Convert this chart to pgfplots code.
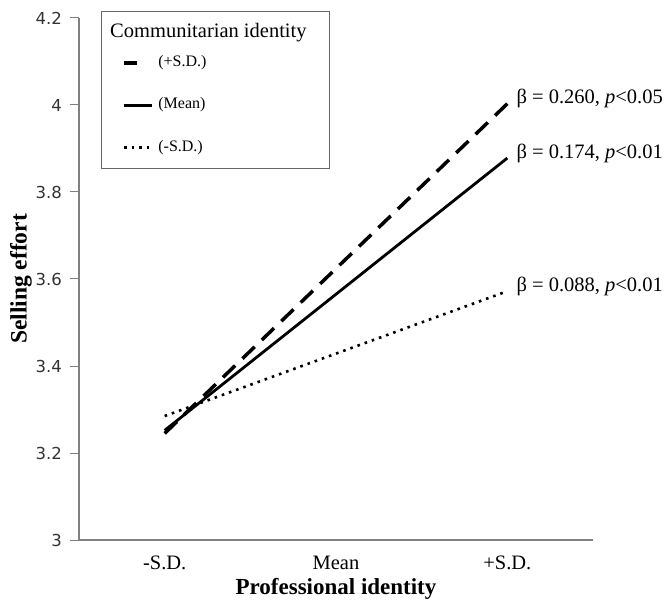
\documentclass[border=0pt]{standalone}
\usepackage{fontspec}
\setmainfont{Liberation Serif}
\setsansfont{DejaVu Sans}
\usepackage{pgfplots}
\pgfplotsset{compat=1.18}
\pgfplotsset{
  shortdash legend/.style={legend image code/.code={\path[draw=none, fill=none] (0pt,-1pt) rectangle (28pt,1pt); \draw[black, line width=3.5pt, solid] (0pt,0pt) -- (13pt,0pt);}},
  long legend/.style={legend image code/.code={\draw[##1] (0pt,0pt) -- (28pt,0pt);}},
}
\begin{document}
\begin{tikzpicture}
\begin{axis}[
  scale only axis, width=514pt, height=522pt,
  xmin=-0.5, xmax=2.5, ymin=3, ymax=4.2,
  axis lines*=left,
  axis line style={draw=black!50, line width=1.3pt},
  xtick={0,1,2}, xticklabels={-S.D.,Mean,+S.D.},
  ytick={3,3.2,3.4,3.6,3.8,4,4.2},
  yticklabels={3,3.2,3.4,3.6,3.8,4,4.2},
  tick align=outside, major tick length=9pt,
  xtick style={draw=none},
  ytick style={draw=black!50, line width=1pt},
  yticklabel style={font=\sffamily\fontsize{16.5}{20}\selectfont, text=black!80, inner sep=0pt, xshift=-8pt},
  xticklabel style={font=\fontsize{20.5}{24}\selectfont, anchor=base, inner sep=0pt, yshift=-20pt},
  /pgf/number format/assume math mode=true,
  xlabel={\textbf{Professional identity}},
  ylabel={\textbf{Selling effort}},
  xlabel style={font=\fontsize{23}{26}\selectfont, at={(axis description cs:0.5,-0.093)}, anchor=center},
  ylabel style={font=\fontsize{23.5}{26}\selectfont, at={(axis description cs:-0.113,0.5)}, anchor=center},
  clip=false,
  legend cell align=left,
  legend style={at={(axis description cs:0.0837,0.929)}, anchor=north west, draw=none, fill=none, inner sep=0pt, row sep=27.5pt,
    nodes={inner sep=0pt, text height=11pt, text depth=4pt, font=\fontsize{16}{19}\selectfont},
    /tikz/every odd column/.append style={column sep=5pt}},
]
\coordinate (O) at (rel axis cs:0,0);
\addplot[black, line width=3.5pt, dash pattern=on 17pt off 9.97pt, shortdash legend]
  coordinates {(0,3.245) (2,4.003)};
\addlegendentry{(+S.D.)}
\addplot[black, line width=2.8pt, long legend]
  coordinates {(0,3.252) (2,3.878)};
\addlegendentry{(Mean)}
\addplot[black, line width=2.6pt, dash pattern=on 2.6pt off 5pt, long legend]
  coordinates {(0,3.285) (2,3.572)};
\addlegendentry{(-S.D.)}
\draw[black!60, line width=1pt] (axis description cs:0.0447,0.7126) rectangle (axis description cs:0.488,1.0115);
\node[anchor=base west, inner sep=0pt, font=\fontsize{20.5}{24}\selectfont] at (axis description cs:0.0603,0.9636) {Communitarian identity};
\node[anchor=base west, inner sep=0pt, xshift=9pt, font=\fontsize{20.5}{24}\selectfont] at (axis cs:2,4.003) {β = 0.260, \textit{p}<0.05};
\node[anchor=base west, inner sep=0pt, xshift=9pt, font=\fontsize{20.5}{24}\selectfont] at (axis cs:2,3.878) {β = 0.174, \textit{p}<0.01};
\node[anchor=base west, inner sep=0pt, xshift=9pt, font=\fontsize{20.5}{24}\selectfont] at (axis cs:2,3.572) {β = 0.088, \textit{p}<0.01};
\end{axis}
\pgfresetboundingbox
\path (O) ++(-79pt,-65pt) rectangle ++(666pt,605pt);
\end{tikzpicture}
\end{document}
